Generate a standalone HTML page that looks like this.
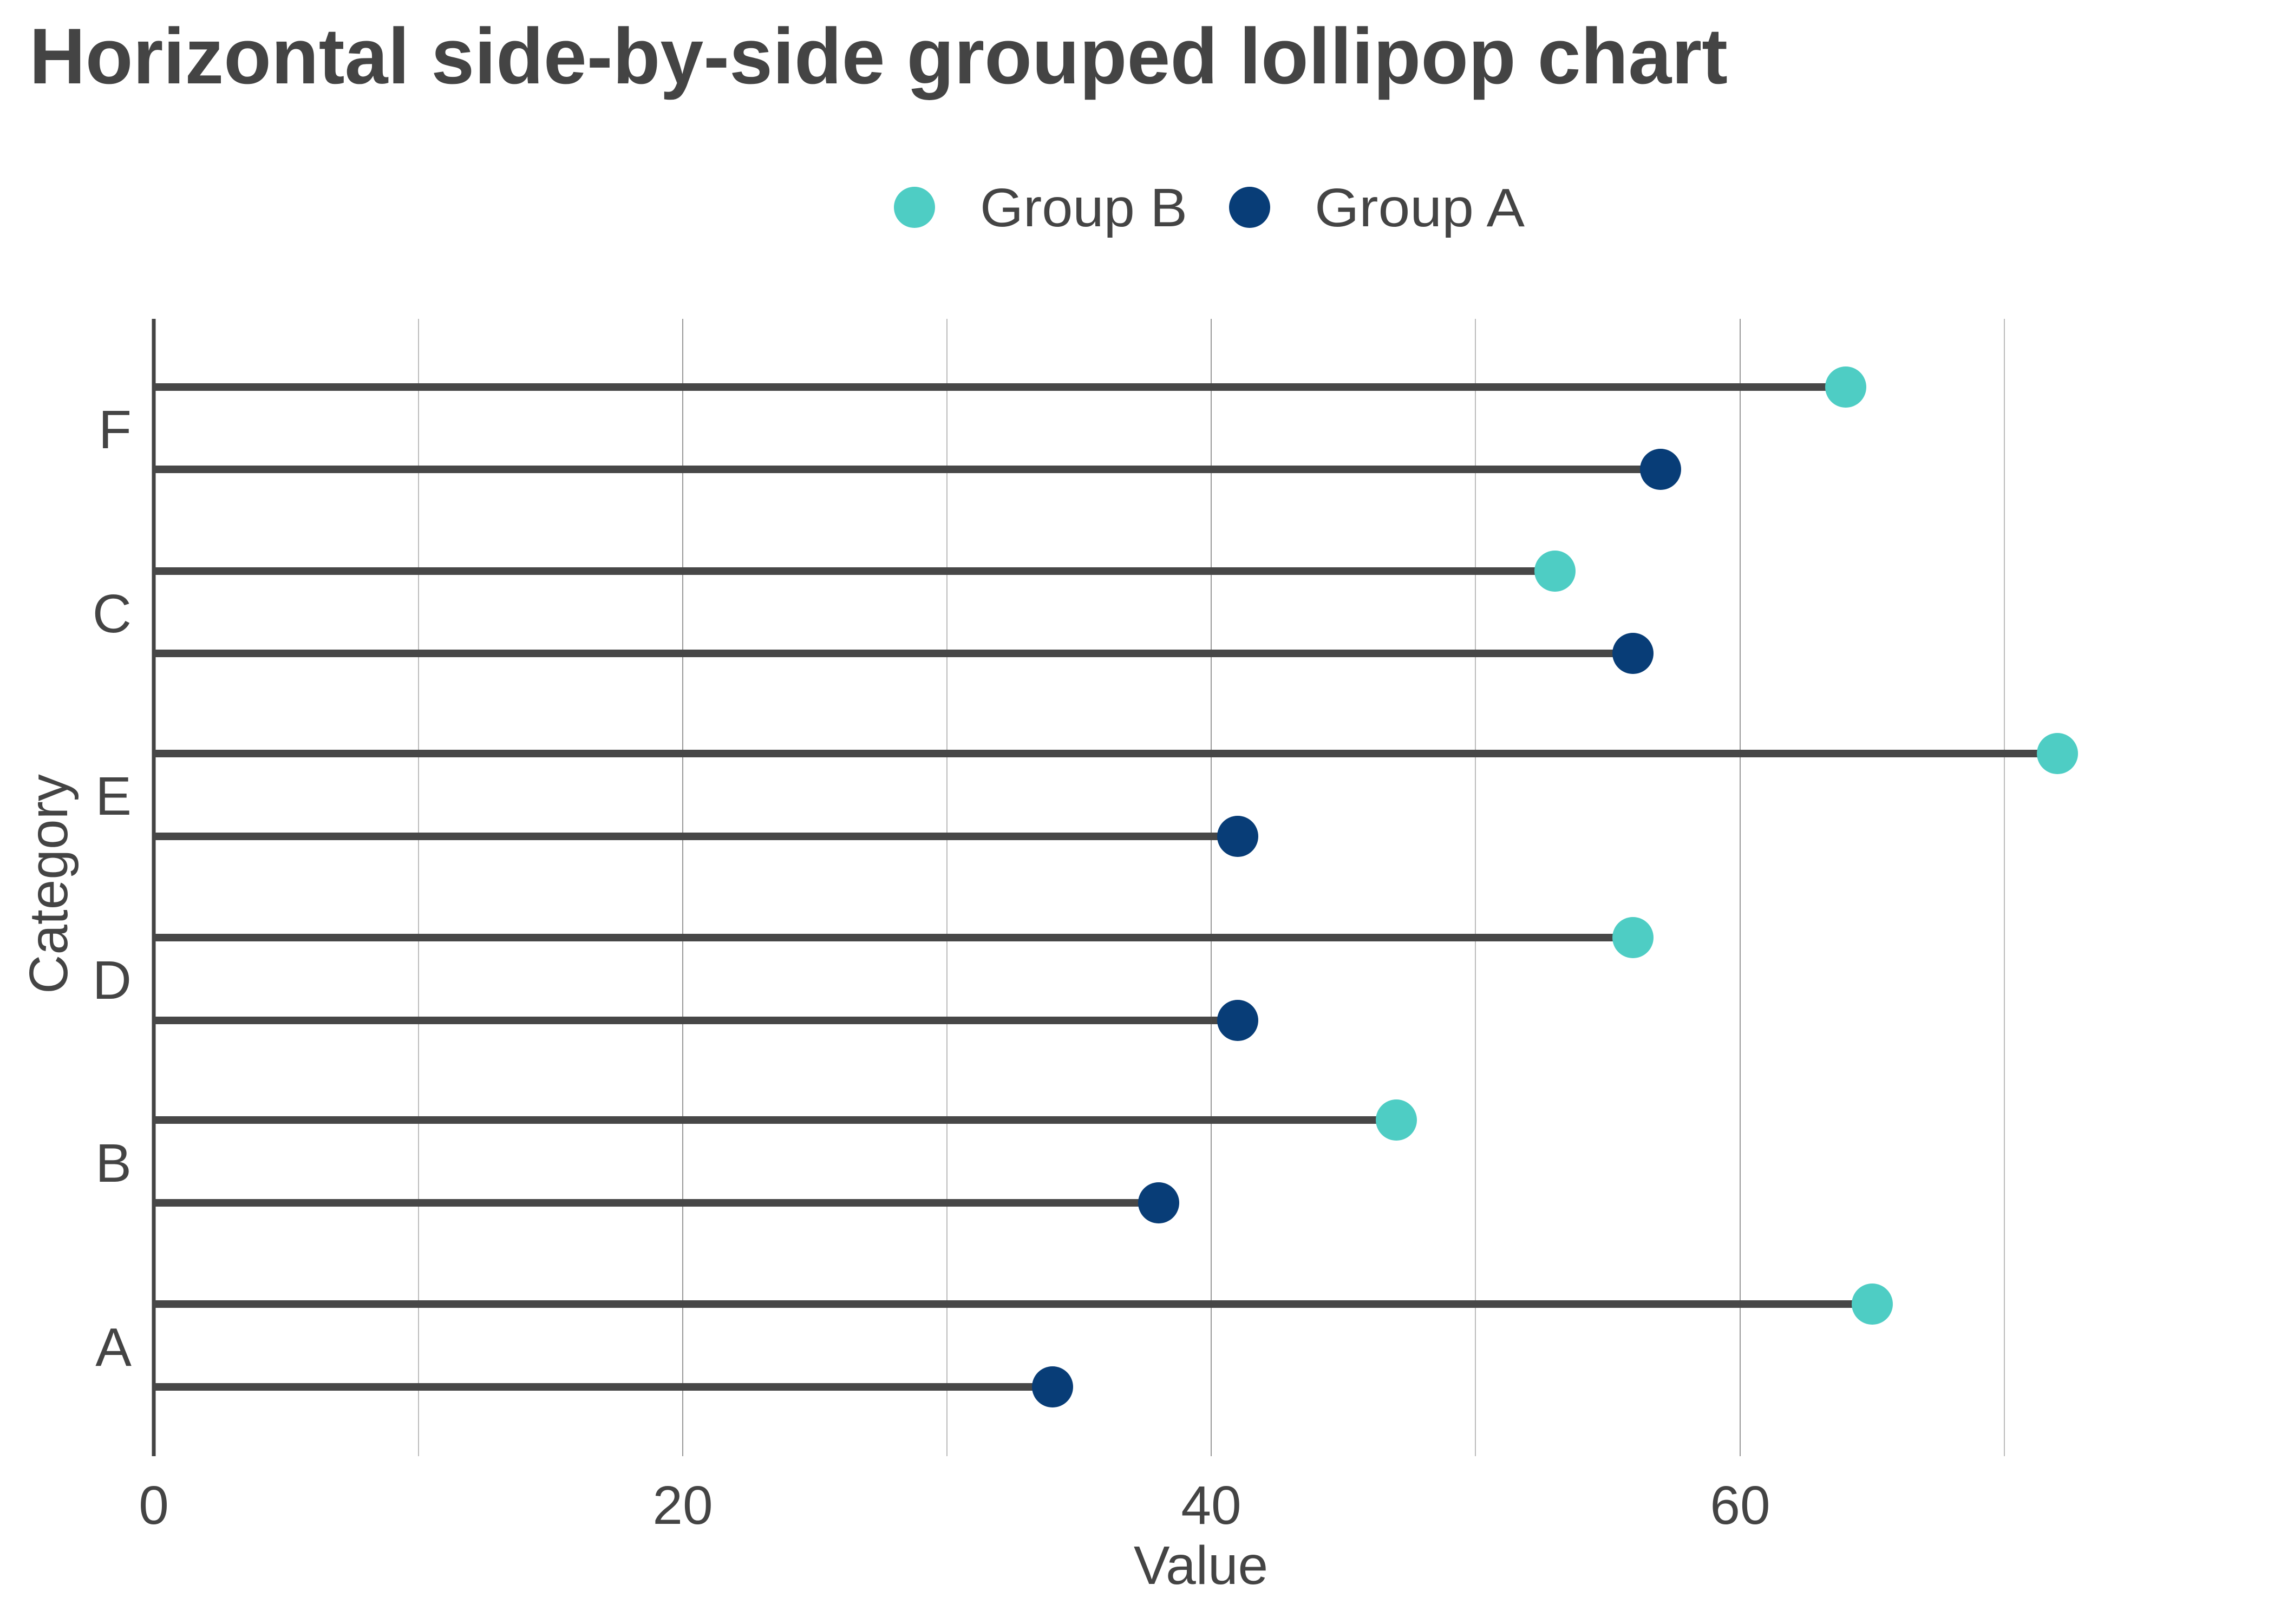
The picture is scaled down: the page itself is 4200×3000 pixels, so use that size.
<!DOCTYPE html>
<html><head><meta charset="utf-8"><style>html,body{margin:0;padding:0;background:#fff}svg{display:block}</style></head>
<body>
<svg width="4200" height="3000" viewBox="0 0 4200 3000" xmlns="http://www.w3.org/2000/svg" font-family="Liberation Sans, sans-serif">
<rect width="4200" height="3000" fill="#fff"/>
<text x="54" y="154" font-size="146" font-weight="bold" fill="#444" textLength="3137" lengthAdjust="spacingAndGlyphs">Horizontal side-by-side grouped lollipop chart</text>
<circle cx="1689" cy="383" r="38" fill="#4ECDC4"/>
<text x="1810" y="418" font-size="100" fill="#444" textLength="383" lengthAdjust="spacingAndGlyphs">Group B</text>
<circle cx="2308" cy="383" r="38" fill="#083D77"/>
<text x="2428" y="418" font-size="100" fill="#444" textLength="388" lengthAdjust="spacingAndGlyphs">Group A</text>
<g stroke="#bbb" stroke-width="2">
<line x1="773" y1="589" x2="773" y2="2690"/>
<line x1="1261" y1="589" x2="1261" y2="2690" stroke="#999"/>
<line x1="1749" y1="589" x2="1749" y2="2690"/>
<line x1="2237" y1="589" x2="2237" y2="2690" stroke="#999"/>
<line x1="2725" y1="589" x2="2725" y2="2690"/>
<line x1="3214" y1="589" x2="3214" y2="2690" stroke="#999"/>
<line x1="3702" y1="589" x2="3702" y2="2690"/>
</g>
<line x1="284" y1="589" x2="284" y2="2690" stroke="#444" stroke-width="7"/>
<g stroke="#474747" stroke-width="14">
<line x1="284" y1="715" x2="3409" y2="715"/>
<line x1="284" y1="867" x2="3067" y2="867"/>
<line x1="284" y1="1055" x2="2872" y2="1055"/>
<line x1="284" y1="1207" x2="3016" y2="1207"/>
<line x1="284" y1="1392" x2="3800" y2="1392"/>
<line x1="284" y1="1545" x2="2286" y2="1545"/>
<line x1="284" y1="1732" x2="3016" y2="1732"/>
<line x1="284" y1="1885" x2="2286" y2="1885"/>
<line x1="284" y1="2069" x2="2579" y2="2069"/>
<line x1="284" y1="2222" x2="2140" y2="2222"/>
<line x1="284" y1="2409" x2="3458" y2="2409"/>
<line x1="284" y1="2562" x2="1944" y2="2562"/>
</g>
<g fill="#4ECDC4">
<circle cx="3409" cy="715" r="38"/><circle cx="2872" cy="1055" r="38"/><circle cx="3800" cy="1392" r="38"/>
<circle cx="3016" cy="1732" r="38"/><circle cx="2579" cy="2069" r="38"/><circle cx="3458" cy="2409" r="38"/>
</g>
<g fill="#083D77">
<circle cx="3067" cy="867" r="38"/><circle cx="3016" cy="1207" r="38"/><circle cx="2286" cy="1545" r="38"/>
<circle cx="2286" cy="1885" r="38"/><circle cx="2140" cy="2222" r="38"/><circle cx="1944" cy="2562" r="38"/>
</g>
<g font-size="100" fill="#444" text-anchor="end">
<text x="243" y="828">F</text><text x="243" y="1168">C</text><text x="243" y="1505">E</text>
<text x="243" y="1845">D</text><text x="243" y="2183">B</text><text x="243" y="2523">A</text>
</g>
<g font-size="100" fill="#444" text-anchor="middle">
<text x="284" y="2815">0</text><text x="1261" y="2815">20</text><text x="2237" y="2815">40</text><text x="3214" y="2815">60</text>
<text x="2218" y="2926">Value</text>
</g>
<text x="0" y="0" font-size="100" fill="#444" text-anchor="middle" transform="translate(124,1633) rotate(-90)">Category</text>
</svg>
</body></html>
